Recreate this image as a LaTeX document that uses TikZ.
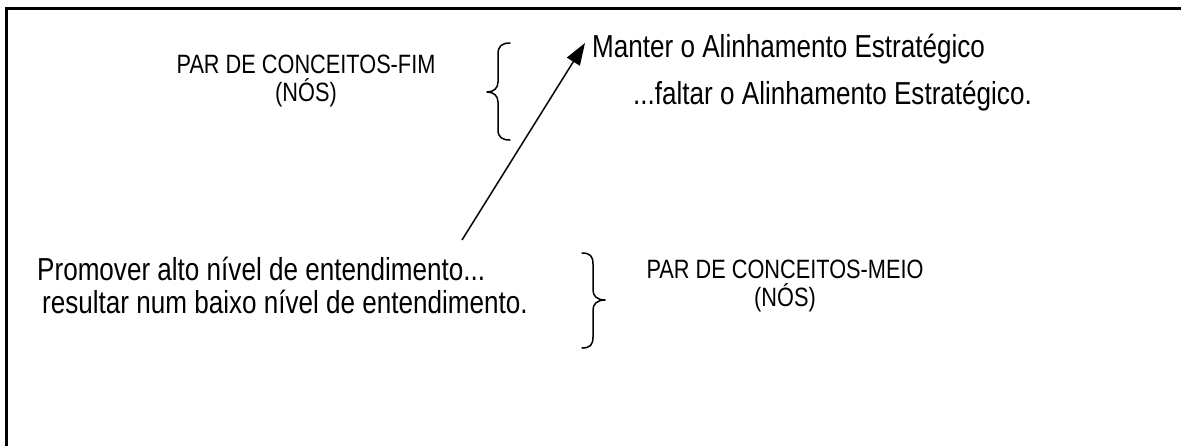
\documentclass[tikz,border=0pt]{standalone}
\usepackage{fontspec}
\setmainfont[FakeStretch=0.82]{Liberation Sans}
\usetikzlibrary{arrows.meta}
\tikzset{
  maintext/.style={inner sep=0pt, anchor=base west, font=\fontsize{31.8}{36}\selectfont},
  labeltext/.style={inner sep=0pt, anchor=base, align=center, font=\fontsize{26.5}{27.5}\selectfont},
  bracestyle/.style={line width=1.5pt, line cap=round, line join=round},
  arrowstyle/.style={line width=1.5pt, -{Triangle[length=22pt,width=15pt]}},
  framestyle/.style={line width=2.6pt}
}
\begin{document}
\begin{tikzpicture}[x=1pt,y=-1pt]
\useasboundingbox (0,0) rectangle (1181,445);
% frame (left and top sides only)
\draw[framestyle] (6.5,446) -- (6.5,8.5) -- (1182,8.5);

% texts
\node[maintext] (manter) at (592,57) {Manter o Alinhamento Estratégico};
\node[maintext] (faltar) at (633,104) {...faltar o Alinhamento Estratégico.};
\node[maintext] (promover) at (37,280) {Promover alto nível de entendimento...};
\node[maintext] (resultar) at (42,313) {resultar num baixo nível de entendimento.};
\node[labeltext] (fim) at (306,101) {PAR DE CONCEITOS-FIM\\(NÓS)};
\node[labeltext] (meio) at (785,306) {PAR DE CONCEITOS-MEIO\\(NÓS)};

% left brace "{"
\draw[bracestyle] (510,43) .. controls (502,43) and (498,46) .. (498,54)
  -- (498,82) .. controls (498,88) and (494,92) .. (487,92)
  .. controls (494,92) and (498,96) .. (498,102)
  -- (498,130) .. controls (498,137) and (502,140) .. (510,140);

% right brace "}"
\draw[bracestyle] (582,253) .. controls (590,253) and (593,256) .. (593,264)
  -- (593,290) .. controls (593,296) and (597,300) .. (605,300)
  .. controls (597,300) and (593,304) .. (593,310)
  -- (593,337) .. controls (593,345) and (590,348) .. (582,348);

% arrow
\coordinate (arrowstart) at (462,240);
\coordinate (arrowtip) at (585,43);
\draw[arrowstyle] (arrowstart) -- (arrowtip);
\end{tikzpicture}
\end{document}
